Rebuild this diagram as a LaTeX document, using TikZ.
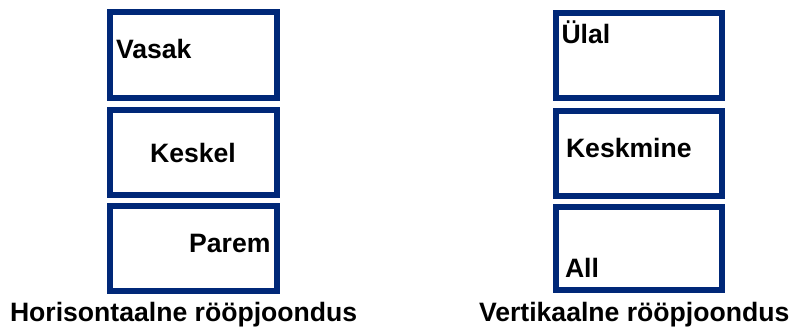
\documentclass[tikz,border=0pt]{standalone}
\usepackage{fontspec}
\setmainfont{Liberation Sans}
\definecolor{navy}{RGB}{0,40,120}
\begin{document}
\begin{tikzpicture}[x=1pt,y=-1pt,
  box/.style={draw=navy,line width=6.3pt,rectangle,inner sep=0pt,outer sep=0pt,fill=white},
  lbl/.style={inner sep=0pt,outer sep=0pt,font=\fontsize{26.6}{30}\selectfont\bfseries}]
\useasboundingbox (0,0) rectangle (793,329);
% left column
\node[box,minimum width=167pt,minimum height=86pt] (l1) at (193.5,55) {};
\node[box,minimum width=167pt,minimum height=85pt] (l2) at (193.5,152.5) {};
\node[box,minimum width=167pt,minimum height=85pt] (l3) at (193.5,248.5) {};
% right column
\node[box,minimum width=166pt,minimum height=85pt] (r1) at (639,55.5) {};
\node[box,minimum width=166pt,minimum height=85pt] (r2) at (639,153.5) {};
\node[box,minimum width=166pt,minimum height=83pt] (r3) at (639,248.5) {};
% texts
\node[lbl,anchor=base west] (t1) at (116,59) {Vasak};
\node[lbl,anchor=base] (t2) at (193,162.7) {Keskel};
\node[lbl,anchor=base east] (t3) at (270.5,252.7) {Parem};
\node[lbl,anchor=base west] (t4) at (561.5,43.3) {Ülal};
\node[lbl,anchor=base west] (t5) at (566,157.7) {Keskmine};
\node[lbl,anchor=base west] (t6) at (565,277.3) {All};
\node[lbl,anchor=base west] (c1) at (10,321.5) {Horisontaalne rööpjoondus};
\node[lbl,anchor=base west] (c2) at (479,321.5) {Vertikaalne rööpjoondus};
\end{tikzpicture}
\end{document}
